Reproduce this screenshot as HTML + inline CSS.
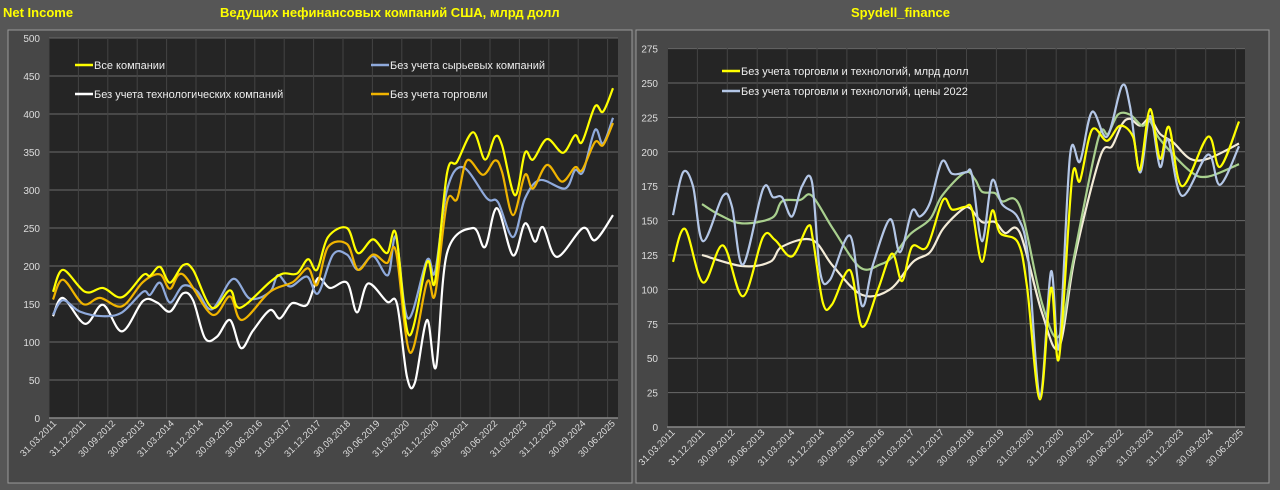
<!DOCTYPE html>
<html><head><meta charset="utf-8">
<style>
html,body{margin:0;padding:0;background:#555;width:1280px;height:490px;overflow:hidden}
svg{display:block;font-family:"Liberation Sans","Noto Sans CJK SC",sans-serif}
</style></head>
<body>
<svg id="s" width="1280" height="490" viewBox="0 0 1280 490" xmlns="http://www.w3.org/2000/svg">
<rect x="0" y="0" width="1280" height="490" fill="#565656"/>
<rect x="8" y="30" width="624" height="453" fill="#474747" stroke="#9a9a9a" stroke-width="1"/>
<rect x="636" y="30" width="633" height="453" fill="#474747" stroke="#9a9a9a" stroke-width="1"/>
<rect x="49" y="38" width="569" height="380" fill="#252525"/>
<rect x="667" y="48" width="578" height="379" fill="#252525"/>
<text x="3" y="17" fill="#ffff00" font-size="13" font-weight="bold">Net Income</text>
<text x="220" y="17" fill="#ffff00" font-size="13" font-weight="bold">Ведущих нефинансовых компаний США, млрд долл</text>
<text x="851" y="17" fill="#ffff00" font-size="13" font-weight="bold">Spydell_finance</text>
<g id="g"></g>
</svg>
<script>
var g=document.getElementById('g'),h='';
function el(s){h+=s;}
for(var k=0;k<=10;k++){var y=418-k*38;el('<line x1="49" x2="618" y1="'+y+'" y2="'+y+'" stroke="#6a6a6a" stroke-width="1"/>');el('<text x="40" y="'+(y+4)+'" fill="#ddd" font-size="10" text-anchor="end">'+(k*50)+'</text>');}
var LL=["31.03.2011","31.12.2011","30.09.2012","30.06.2013","31.03.2014","31.12.2014","30.09.2015","30.06.2016","31.03.2017","31.12.2017","30.09.2018","30.06.2019","31.03.2020","31.12.2020","30.09.2021","30.06.2022","31.03.2023","31.12.2023","30.09.2024","30.06.2025"];
for(var k=0;k<20;k++){var x=49+k*29.4;el('<line x1="'+x+'" x2="'+x+'" y1="38" y2="418" stroke="#444" stroke-width="1"/>');el('<text transform="translate('+(x+8)+',424) rotate(-45)" fill="#ddd" font-size="9.5" text-anchor="end">'+LL[k]+'</text>');}
el('<line x1="49" x2="618" y1="418" y2="418" stroke="#888" stroke-width="1.5"/>');
for(var k=0;k<=11;k++){var y=427-k*34.4;el('<line x1="667" x2="1245" y1="'+y+'" y2="'+y+'" stroke="#6a6a6a" stroke-width="1"/>');el('<text x="658" y="'+(y+4)+'" fill="#ddd" font-size="10" text-anchor="end">'+(k*25)+'</text>');}
for(var k=0;k<20;k++){var x=667.5+k*29.9;el('<line x1="'+x+'" x2="'+x+'" y1="48" y2="427" stroke="#444" stroke-width="1"/>');el('<text transform="translate('+(x+8)+',433) rotate(-45)" fill="#ddd" font-size="9.5" text-anchor="end">'+LL[k]+'</text>');}
el('<line x1="667" x2="1245" y1="427" y2="427" stroke="#888" stroke-width="1.5"/>');
function path(pts,col,fy){var p=pts.map(function(a){return [a[0],fy(a[1])];});var d='M'+p[0][0]+','+p[0][1];
for(var i=0;i<p.length-1;i++){var p0=p[i>0?i-1:0],p1=p[i],p2=p[i+1],p3=p[i+2<p.length?i+2:i+1];
var c1x=p1[0]+(p2[0]-p0[0])/6,c1y=p1[1]+(p2[1]-p0[1])/6,c2x=p2[0]-(p3[0]-p1[0])/6,c2y=p2[1]-(p3[1]-p1[1])/6;
d+=' C'+c1x.toFixed(1)+','+c1y.toFixed(1)+' '+c2x.toFixed(1)+','+c2y.toFixed(1)+' '+p2[0].toFixed(1)+','+p2[1].toFixed(1);}
el('<path d="'+d+'" fill="none" stroke="'+col+'" stroke-width="2.2" stroke-linejoin="round"/>');}
var fL=function(v){return 418-v*0.76;},fR=function(v){return 427-v*1.376;};
var W=[[53,134],[63,158],[85,124],[103,149],[122,114],[143,154],[157,152],[170,140],[183,164],[193,155],[205,105],[217,107],[230,129],[241,92],[253,115],[270,142],[280,131],[292,151],[307,149],[318,184],[330,171],[347,178],[357,139],[368,177],[387,153],[397,150],[407,54],[415,47],[427,129],[436,67],[447,217],[473,250],[485,225],[497,276],[513,214],[525,256],[535,232],[543,251],[557,212],[583,250],[595,234],[613,267]];
var B=[[53,136],[63,155],[80,140],[103,134],[122,139],[143,166],[150,162],[160,178],[170,152],[183,174],[197,167],[212,143],[233,183],[250,157],[270,166],[278,188],[290,173],[307,186],[318,164],[333,215],[347,215],[358,195],[373,213],[388,188],[396,238],[408,131],[427,208],[435,192],[447,300],[463,330],[487,289],[498,284],[513,238],[525,289],[540,313],[565,302],[575,326],[583,324],[595,379],[603,361],[613,395]];
var O=[[53,156],[63,182],[83,150],[100,158],[122,147],[143,179],[160,189],[170,170],[183,189],[212,136],[230,160],[242,129],[270,166],[293,179],[308,197],[317,175],[328,225],[347,229],[358,195],[373,215],[387,204],[396,219],[410,86],[427,179],[435,162],[447,284],[457,288],[467,339],[483,320],[495,339],[502,324],[513,267],[525,320],[533,302],[547,333],[562,311],[575,330],[582,326],[595,363],[603,359],[613,388]];
var Y=[[53,166],[63,195],[85,166],[103,171],[122,159],[143,188],[150,187],[160,199],[170,178],[183,201],[193,195],[212,145],[230,168],[240,145],[270,179],[283,190],[297,190],[308,209],[317,195],[328,238],[347,250],[358,217],[373,235],[387,217],[396,242],[409,109],[427,205],[435,179],[447,322],[457,337],[473,376],[485,340],[495,370],[502,359],[515,293],[525,349],[533,340],[547,367],[563,349],[575,372],[582,363],[595,410],[603,403],[613,434]];
path(W,'#ffffff',fL);path(B,'#8faadc',fL);path(O,'#f0b400',fL);path(Y,'#ffff00',fL);
var RW=[[702,125],[742,117],[770,120],[782,131],[812,136],[833,117],[862,96],[890,100],[913,120],[930,127],[943,144],[962,158],[970,159],[982,149],[995,149],[1005,141],[1020,141],[1042,83],[1059,58],[1075,124],[1100,196],[1112,204],[1122,220],[1130,224],[1140,219],[1150,224],[1160,213],[1173,207],[1190,195],[1208,195],[1239,206]];
var RG=[[702,162],[720,154],[742,148],[772,152],[782,164],[800,165],[812,168],[833,144],[860,116],[880,118],[893,124],[910,140],[930,151],[942,168],[965,185],[975,180],[982,171],[995,170],[1002,164],[1020,160],[1042,90],[1059,66],[1073,120],[1098,209],[1108,213],[1118,227],[1130,227],[1142,219],[1150,222],[1160,209],[1190,186],[1208,182],[1239,191]];
var RB=[[673,154],[683,185],[693,175],[703,135],[723,168],[732,160],[743,118],[763,173],[773,167],[782,167],[792,153],[802,175],[812,178],[820,113],[830,107],[850,139],[862,88],[873,118],[890,151],[900,127],[912,157],[920,153],[930,163],[942,193],[952,184],[966,185],[972,183],[982,135],[992,179],[1002,162],[1018,152],[1028,124],[1040,22],[1051,113],[1059,58],[1070,197],[1080,193],[1092,229],[1107,211],[1122,248],[1130,233],[1140,185],[1150,226],[1160,189],[1168,209],[1182,168],[1208,198],[1220,176],[1239,204]];
var RY=[[673,120],[685,144],[703,105],[723,132],[743,95],[763,138],[775,136],[792,124],[808,146],[813,136],[823,90],[832,89],[850,114],[862,73],[878,100],[892,126],[902,106],[912,131],[927,131],[943,165],[952,158],[965,160],[972,158],[982,120],[992,157],[1000,141],[1018,134],[1027,102],[1040,20],[1051,101],[1059,50],[1072,180],[1080,179],[1092,216],[1107,208],[1120,219],[1133,211],[1140,187],[1150,231],[1160,195],[1169,218],[1182,175],[1208,211],[1220,189],[1239,222]];
path(RW,'#f4ecd8',fR);path(RG,'#a9d08e',fR);path(RB,'#b4c7e7',fR);path(RY,'#ffff00',fR);
function leg(x,y,col,t){el('<line x1="'+x+'" x2="'+(x+18)+'" y1="'+y+'" y2="'+y+'" stroke="'+col+'" stroke-width="2.5"/>');el('<text x="'+(x+19)+'" y="'+(y+4)+'" fill="#eee" font-size="11">'+t+'</text>');}
leg(75,65,'#ffff00','Все компании');leg(371,65,'#8faadc','Без учета сырьевых компаний');
leg(75,94,'#ffffff','Без учета технологических компаний');leg(371,94,'#f0b400','Без учета торговли');
leg(722,71,'#ffff00','Без учета торговли и технологий, млрд долл');leg(722,91,'#b4c7e7','Без учета торговли и технологий, цены 2022');
g.innerHTML=h;
</script>
</body></html>
